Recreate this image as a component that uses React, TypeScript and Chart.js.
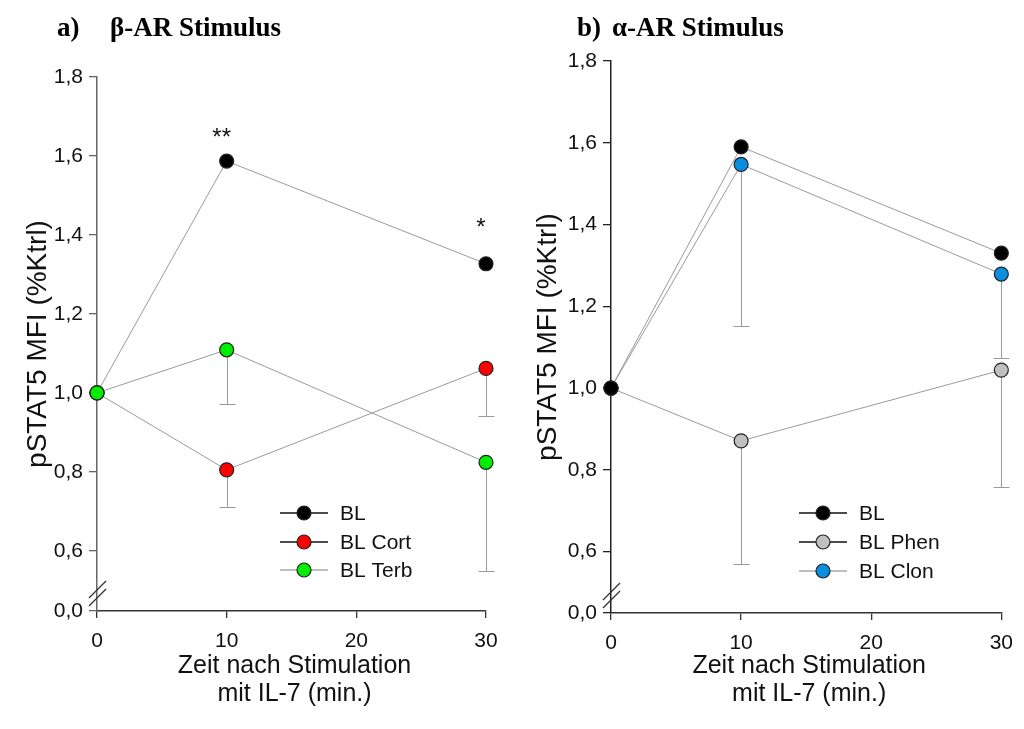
import React, { useEffect, useRef } from 'react';
import { Chart, registerables } from 'chart.js';

Chart.register(...registerables);

// ---------- data ----------
const timePoints = [0, 10, 30];
const xTicks = [0, 10, 20, 30];
const yTicks = [0.6, 0.8, 1.0, 1.2, 1.4, 1.6, 1.8];

// Panel a) beta-AR stimulus
const aBL = [1.0, 1.587, 1.327];
const aCort = [1.0, 0.805, 1.062];
const aCortLow = [null, 0.712, 0.942];
const aTerb = [1.0, 1.109, 0.824];
const aTerbLow = [null, 0.972, 0.549];

// Panel b) alpha-AR stimulus
const bBL = [1.0, 1.59, 1.33];
const bPhen = [1.0, 0.871, 1.044];
const bPhenLow = [null, 0.571, 0.758];
const bClon = [1.0, 1.547, 1.279];
const bClonLow = [null, 1.152, 1.073];

const FONT = "'Liberation Sans', Arial, sans-serif";
const SERIF = "'Liberation Serif', 'Times New Roman', serif";

type Series = {
  label: string;
  values: number[];
  low: (number | null)[] | null;
  fill: string;
  legendLine: string;
  order: number;
};

type Panel = {
  letter: string;
  title: string;
  letterX: number;
  titleX: number;
  series: Series[];
  stars: { x: number; ref: number[]; idx: number; text: string; dy: number }[];
  bottomValue: number;
  padTop: number;
  padRight: number;
  yWidth: number;
  xHeight: number;
  yAxisColor: string;
  yTitleX: number;
  legendX: number;
  legendRows: number[];
};

const panels: Panel[] = [
  {
    letter: 'a)',
    title: 'β-AR Stimulus',
    letterX: 57,
    titleX: 110,
    series: [
      { label: 'BL', values: aBL, low: null, fill: '#000000', legendLine: '#111', order: 2 },
      { label: 'BL Cort', values: aCort, low: aCortLow, fill: '#ff0000', legendLine: '#111', order: 1 },
      { label: 'BL Terb', values: aTerb, low: aTerbLow, fill: '#00ee00', legendLine: '#aaa', order: 0 },
    ],
    stars: [
      { x: 10, ref: aBL, idx: 1, text: '**', dy: 16 },
      { x: 30, ref: aBL, idx: 2, text: '*', dy: 29 },
    ],
    bottomValue: 0.4475,
    padTop: 77,
    padRight: 26,
    yWidth: 97,
    xHeight: 118,
    yAxisColor: '#666',
    yTitleX: 38,
    legendX: 280,
    legendRows: [513, 542, 570],
  },
  {
    letter: 'b)',
    title: 'α-AR Stimulus',
    letterX: 65,
    titleX: 100,
    series: [
      { label: 'BL', values: bBL, low: null, fill: '#000000', legendLine: '#111', order: 0 },
      { label: 'BL Phen', values: bPhen, low: bPhenLow, fill: '#c0c0c0', legendLine: '#111', order: 2 },
      { label: 'BL Clon', values: bClon, low: bClonLow, fill: '#0a8ee0', legendLine: '#aaa', order: 1 },
    ],
    stars: [],
    bottomValue: 0.45,
    padTop: 61,
    padRight: 14,
    yWidth: 99,
    xHeight: 116,
    yAxisColor: '#222',
    yTitleX: 36,
    legendX: 287,
    legendRows: [513, 542, 571],
  },
];

const decorPlugin = {
  id: 'decor',
  beforeDatasetsDraw(chart: any, _args: any, opts: any) {
    const p: Panel = opts.panel;
    const ctx = chart.ctx;
    const xs = chart.scales.x;
    const ys = chart.scales.y;
    ctx.save();
    ctx.strokeStyle = '#9a9a9a';
    ctx.lineWidth = 1;
    p.series.forEach((s) => {
      if (!s.low) return;
      timePoints.forEach((t, i) => {
        const lo = s.low![i];
        if (lo == null) return;
        const x = Math.round(xs.getPixelForValue(t)) + 0.5;
        const y0 = ys.getPixelForValue(s.values[i]);
        const y1 = Math.round(ys.getPixelForValue(lo)) + 0.5;
        ctx.beginPath();
        ctx.moveTo(x, y0);
        ctx.lineTo(x, y1);
        ctx.moveTo(x - 8, y1);
        ctx.lineTo(x + 8, y1);
        ctx.stroke();
      });
    });
    ctx.restore();
  },
  afterDraw(chart: any, _args: any, opts: any) {
    const p: Panel = opts.panel;
    const ctx = chart.ctx;
    const area = chart.chartArea;
    const xs = chart.scales.x;
    const ys = chart.scales.y;
    ctx.save();

    // axis break marks
    const bx = area.left;
    const by = area.bottom - 17;
    ctx.strokeStyle = '#333';
    ctx.lineWidth = 1.3;
    [-4, 4].forEach((o) => {
      ctx.beginPath();
      ctx.moveTo(bx - 8, by + o + 8);
      ctx.lineTo(bx + 9, by + o - 9);
      ctx.stroke();
    });

    // stars
    ctx.fillStyle = '#111';
    ctx.font = `24px ${FONT}`;
    ctx.textAlign = 'center';
    ctx.textBaseline = 'alphabetic';
    p.stars.forEach((s) => {
      const x = xs.getPixelForValue(s.x) - 5;
      const y = ys.getPixelForValue(s.ref[s.idx]) - s.dy;
      ctx.fillText(s.text, x, y);
    });

    // panel title
    ctx.font = `bold 27px ${SERIF}`;
    ctx.textAlign = 'left';
    ctx.fillStyle = '#000';
    ctx.fillText(p.letter, p.letterX, 36);
    ctx.fillText(p.title, p.titleX, 36);

    // y title
    ctx.font = `28px ${FONT}`;
    ctx.textAlign = 'center';
    ctx.textBaseline = 'middle';
    ctx.fillStyle = '#111';
    ctx.save();
    ctx.translate(p.yTitleX, (area.top + area.bottom) / 2);
    ctx.rotate(-Math.PI / 2);
    ctx.fillText('pSTAT5 MFI (%Ktrl)', 0, 0);
    ctx.restore();

    // x title
    const cx = (area.left + area.right) / 2 + 3;
    ctx.font = `25px ${FONT}`;
    ctx.fillText('Zeit nach Stimulation', cx, 666);
    ctx.fillText('mit IL-7 (min.)', cx, 694);

    // legend
    p.series.forEach((s, i) => {
      const y = p.legendRows[i];
      const x0 = p.legendX;
      ctx.strokeStyle = s.legendLine;
      ctx.lineWidth = 1.5;
      ctx.beginPath();
      ctx.moveTo(x0, y);
      ctx.lineTo(x0 + 48, y);
      ctx.stroke();
      ctx.beginPath();
      ctx.arc(x0 + 24, y, 7, 0, Math.PI * 2);
      ctx.fillStyle = s.fill;
      ctx.fill();
      ctx.strokeStyle = '#222';
      ctx.lineWidth = 1.2;
      ctx.stroke();
      ctx.fillStyle = '#111';
      ctx.font = `21px ${FONT}`;
      ctx.textAlign = 'left';
      ctx.textBaseline = 'middle';
      ctx.fillText(s.label, x0 + 60, y + 1);
    });

    ctx.restore();
  },
};

function PanelChart({ panel, left }: { panel: Panel; left: number }) {
  const ref = useRef<HTMLCanvasElement | null>(null);
  useEffect(() => {
    if (!ref.current) return;
    const bottom = panel.bottomValue;
    const chart = new Chart(ref.current, {
      type: 'line',
      data: {
        datasets: panel.series.map((s) => ({
          label: s.label,
          data: timePoints.map((t, i) => ({ x: t, y: s.values[i] })),
          borderColor: '#9a9a9a',
          borderWidth: 1,
          pointRadius: 7,
          pointHoverRadius: 7,
          pointBackgroundColor: s.fill,
          pointBorderColor: '#222',
          pointBorderWidth: 1.2,
          tension: 0,
          clip: false as any,
          order: s.order,
        })),
      },
      options: {
        responsive: false,
        animation: false,
        events: [],
        layout: { padding: { top: panel.padTop, right: panel.padRight, left: 0, bottom: 0 } },
        plugins: {
          legend: { display: false },
          tooltip: { enabled: false },
          decor: { panel },
        } as any,
        scales: {
          x: {
            type: 'linear',
            min: 0,
            max: 30,
            afterBuildTicks: (scale: any) => {
              scale.ticks = xTicks.map((v) => ({ value: v }));
            },
            afterFit: (scale: any) => {
              scale.height = panel.xHeight;
            },
            ticks: {
              font: { family: FONT, size: 21 },
              color: '#111',
              padding: 11,
              maxRotation: 0,
            },
            grid: { drawOnChartArea: false, drawTicks: true, tickLength: 7, color: '#333', lineWidth: 1.3 },
            border: { display: true, color: '#333', width: 1.5 },
          },
          y: {
            type: 'linear',
            min: bottom,
            max: 1.8,
            afterBuildTicks: (scale: any) => {
              scale.ticks = [bottom, ...yTicks].map((v) => ({ value: v }));
            },
            afterFit: (scale: any) => {
              scale.width = panel.yWidth;
            },
            ticks: {
              font: { family: FONT, size: 21 },
              color: '#111',
              padding: 6,
              callback: (v: any) =>
                Math.abs(Number(v) - bottom) < 1e-6 ? '0,0' : Number(v).toFixed(1).replace('.', ','),
            },
            grid: { drawOnChartArea: false, drawTicks: true, tickLength: 8, color: panel.yAxisColor, lineWidth: 1.3 },
            border: { display: true, color: panel.yAxisColor, width: 1.5 },
          },
        },
      } as any,
      plugins: [decorPlugin as any],
    });
    return () => chart.destroy();
  }, [panel]);
  return (
    <div style={{ position: 'absolute', left, top: 0, width: 512, height: 729 }}>
      <canvas ref={ref} width={512} height={729} style={{ display: 'block' }} />
    </div>
  );
}

export default function App() {
  return (
    <div style={{ position: 'absolute', left: 0, top: 0, width: 1024, height: 729, background: '#fff' }}>
      <PanelChart panel={panels[0]} left={0} />
      <PanelChart panel={panels[1]} left={512} />
    </div>
  );
}
